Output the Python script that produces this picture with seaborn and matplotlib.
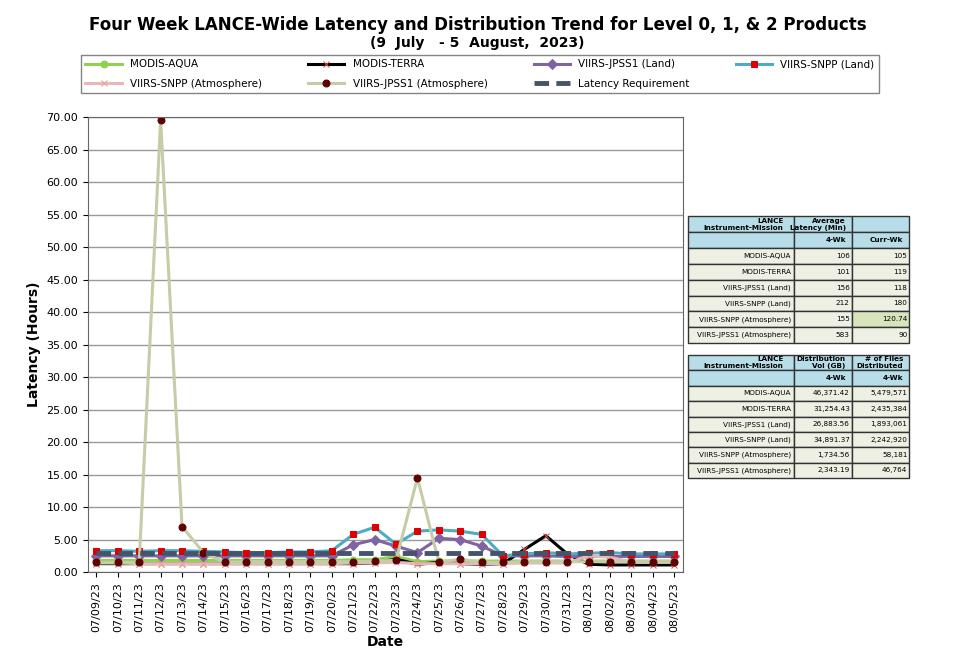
import matplotlib
matplotlib.use("Agg")
import matplotlib.pyplot as plt
import seaborn as sns
import pandas as pd

dates = ["07/09/23","07/10/23","07/11/23","07/12/23","07/13/23","07/14/23","07/15/23","07/16/23","07/17/23","07/18/23",
         "07/19/23","07/20/23","07/21/23","07/22/23","07/23/23","07/24/23","07/25/23","07/26/23","07/27/23","07/28/23",
         "07/29/23","07/30/23","07/31/23","08/01/23","08/02/23","08/03/23","08/04/23","08/05/23"]
modis_aqua = [1.8,1.8,1.8,1.8,1.8,1.8,1.8,1.8,1.8,1.8,1.8,1.8,1.9,1.9,2.4,1.6,1.7,1.7,1.7,1.7,1.7,1.7,1.7,1.7,1.7,1.7,1.7,1.7]
modis_terra = [1.3,1.3,1.3,1.3,1.3,1.3,1.3,1.3,1.3,1.3,1.3,1.3,1.3,1.4,2.0,1.2,1.5,1.3,1.2,1.3,3.5,5.6,2.8,1.2,1.1,1.1,1.1,1.1]
jpss1_land = [2.5,2.5,2.5,2.5,2.5,2.5,2.5,2.5,2.5,2.5,2.5,2.5,4.2,5.0,4.0,3.0,5.2,5.0,4.0,2.5,2.5,2.5,2.4,2.4,2.4,2.4,2.4,2.4]
snpp_land = [3.3,3.3,3.2,3.3,3.3,3.2,3.1,3.0,3.0,3.1,3.1,3.3,5.8,6.9,4.3,6.3,6.5,6.3,5.8,2.5,2.8,3.0,2.8,2.9,3.0,2.8,2.8,2.8]
snpp_atm = [1.4,1.4,1.3,1.3,1.3,1.3,1.3,1.3,1.3,1.3,1.3,1.3,1.4,1.4,1.5,1.3,1.3,1.3,1.3,1.3,1.4,1.4,1.4,2.5,2.3,1.5,1.5,1.5]
jpss1_atm = [1.5,1.5,1.5,69.5,7.0,3.0,1.5,1.6,1.6,1.6,1.6,1.6,1.6,1.7,1.8,14.5,1.5,2.0,1.5,1.5,1.6,1.6,1.6,1.6,1.6,1.6,1.6,1.6]
requirement = [3.0]*28

t1_rows = ["MODIS-AQUA","MODIS-TERRA","VIIRS-JPSS1 (Land)","VIIRS-SNPP (Land)","VIIRS-SNPP (Atmosphere)","VIIRS-JPSS1 (Atmosphere)"]
t1_4wk = ["106","101","156","212","155","583"]
t1_cur = ["105","119","118","180","120.74","90"]
t2_vol = ["46,371.42","31,254.43","26,883.56","34,891.37","1,734.56","2,343.19"]
t2_files = ["5,479,571","2,435,384","1,893,061","2,242,920","58,181","46,764"]

x = list(range(len(dates)))
fig = plt.figure(figsize=(9.55, 6.66), dpi=100)
ax = fig.add_axes([0.092, 0.141, 0.623, 0.683])

series = [
    ("MODIS-AQUA", modis_aqua, "#92D050", "o", "#92D050"),
    ("MODIS-TERRA", modis_terra, "#000000", "x", "#E05050"),
    ("VIIRS-JPSS1 (Land)", jpss1_land, "#8064A2", "D", "#8064A2"),
    ("VIIRS-SNPP (Land)", snpp_land, "#4BACC6", "s", "#E00000"),
    ("VIIRS-SNPP (Atmosphere)", snpp_atm, "#E6B9B8", "x", "#E6A0A0"),
    ("VIIRS-JPSS1 (Atmosphere)", jpss1_atm, "#C4CDA8", "o", "#600000"),
]
for name, vals, c, m, mc in series:
    df = pd.DataFrame({"x": x, "y": vals})
    sns.lineplot(data=df, x="x", y="y", ax=ax, color=c, lw=2.2, marker=m, markersize=5,
                 markerfacecolor=mc, markeredgecolor=mc, label=name)
sns.lineplot(x=x, y=requirement, ax=ax, color="#44546A", lw=3.5, ls=(0, (3, 1.5)), label="Latency Requirement")

ax.set_ylim(0, 70)
ax.set_xlim(-0.4, 27.4)
ax.set_yticks(range(0, 71, 5))
ax.set_yticklabels([f"{v:.2f}" for v in range(0, 71, 5)], fontsize=8)
ax.set_xticks(x)
ax.set_xticklabels(dates, rotation=90, fontsize=8)
ax.grid(axis="y", color="#999999", lw=1)
ax.set_axisbelow(True)
ax.set_xlabel("Date", fontsize=10, fontweight="bold", labelpad=2)
ax.set_ylabel("Latency (Hours)", fontsize=10, fontweight="bold")
for s in ax.spines.values():
    s.set_color("#666666")
h, l = ax.get_legend_handles_labels()
ax.get_legend().remove()
order = [0, 4, 1, 5, 2, 6, 3]
fig.legend([h[i] for i in order], [l[i] for i in order], loc="upper left",
           bbox_to_anchor=(0.085, 0.835, 0.835, 0.082), mode="expand",
           ncol=4, fontsize=7.5, frameon=True, edgecolor="#666666", fancybox=False, borderaxespad=0,
           handlelength=3.5, labelspacing=0.9)

fig.text(0.5, 0.955, "Four Week LANCE-Wide Latency and Distribution Trend for Level 0, 1, & 2 Products",
         ha="center", fontsize=12, fontweight="bold")
fig.text(0.5, 0.93, "(9  July   - 5  August,  2023)", ha="center", fontsize=10, fontweight="bold")

hdr = "#B7DEE8"
row = "#EEF0E4"
def make_table(rect, col_labels, cols):
    tax = fig.add_axes(rect); tax.axis("off")
    cells = [[r] + [c[i] for c in cols] for i, r in enumerate(t1_rows)]
    all_cells = [col_labels[0], col_labels[1]] + cells
    tb = tax.table(cellText=all_cells, loc="upper center", bbox=[0, 0, 1, 1],
                   colWidths=[0.48, 0.26, 0.26])
    tb.auto_set_font_size(False)
    tb.set_fontsize(5.2)
    for (r, c), cell in tb.get_celld().items():
        cell.set_edgecolor("#333333")
        if r < 2:
            cell.set_facecolor(hdr)
            cell.get_text().set_fontweight("bold")
            cell._loc = "center"
        else:
            cell.set_facecolor(row)
            cell._loc = "left" if c == 0 else "right"
            cell.PAD = 0.03
    return tb

tb1 = make_table([0.72, 0.485, 0.232, 0.19],
                 [["LANCE\nInstrument-Mission", "Average\nLatency (Min)", ""], ["", "4-Wk", "Curr-Wk"]],
                 [t1_4wk, t1_cur])
tb1[(6, 2)].set_facecolor("#D8E4BC")
tb2 = make_table([0.72, 0.282, 0.232, 0.185],
                 [["LANCE\nInstrument-Mission", "Distribution\nVol (GB)", "# of Files\nDistributed"], ["", "4-Wk", "4-Wk"]],
                 [t2_vol, t2_files])
fig.savefig("out.png", dpi=100)
